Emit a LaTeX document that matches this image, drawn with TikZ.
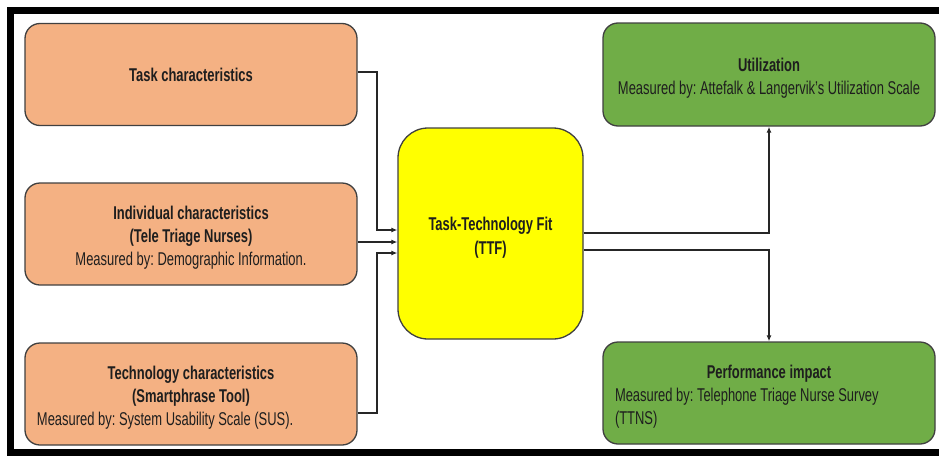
\documentclass[tikz,border=0pt]{standalone}
\usepackage{fontspec}
\setmainfont[FakeStretch=0.70]{Liberation Sans}
\frenchspacing
\usetikzlibrary{arrows.meta}
\definecolor{peach}{HTML}{F4B183}
\definecolor{leaf}{HTML}{70AD47}
\definecolor{ttfyellow}{HTML}{FFFF00}
\definecolor{edgegray}{HTML}{404040}
\definecolor{txt}{HTML}{1E1E1E}
\newcommand{\boxtext}[2][308pt]{\raisebox{-4pt}[\height][\depth]{\parbox{#1}{#2}}}
\tikzset{
  box/.style={draw=edgegray, line width=1.3pt, rounded corners=15pt,
    minimum height=102pt, minimum width=332pt, inner xsep=12pt, inner ysep=0pt,
    text=txt, font=\fontsize{18.5}{22.8}\selectfont\frenchspacing},
  orangebox/.style={box, fill=peach},
  greenbox/.style={box, fill=leaf},
  ttfbox/.style={draw=edgegray, line width=1.3pt, rounded corners=30pt, fill=ttfyellow,
    minimum width=185pt, minimum height=211pt, inner xsep=10pt,
    text=txt, font=\fontsize{18.5}{23.5}\selectfont\bfseries},
  conn/.style={draw=black!85, line width=1.6pt, -{Latex[length=6pt,width=5pt]}},
  frameline/.style={draw=black, line width=7pt}
}
\begin{document}
\begin{tikzpicture}[x=1pt,y=-1pt]
\useasboundingbox (0,0) rectangle (939,455);
\draw[frameline] (960,10.5) -- (10.5,10.5) -- (10.5,452.5) -- (960,452.5);

\node[orangebox] (task) at (191,74.5) {\parbox{308pt}{\centering\bfseries Task characteristics}};
\node[orangebox] (indiv) at (191,234) {\boxtext{\centering\bfseries Individual characteristics\\(Tele Triage Nurses)\\\mdseries Measured by: Demographic Information.}};
\node[orangebox] (tech) at (191,394) {\boxtext{{\centering\bfseries Technology characteristics\\(Smartphrase Tool)\par}Measured by: System Usability Scale (SUS).}};

\node[ttfbox] (ttf) at (490.5,233.5) {\boxtext[165pt]{\centering Task-Technology Fit\\(TTF)}};

\node[greenbox, minimum height=103pt] (util) at (769,74.5) {\boxtext{\centering\bfseries Utilization\\\mdseries\makebox[0pt]{Measured by: Attefalk \& Langervik’s Utilization Scale}}};
\node[greenbox] (perf) at (769,393) {\boxtext{{\centering\bfseries Performance impact\par}Measured by: Telephone Triage Nurse Survey\\(TTNS)}};

\coordinate (bus) at (377,0);
\draw[conn] (task.east |- 0,72) -| (bus |- 0,150) |- (ttf.west |- 0,230);
\draw[conn] (indiv.east |- 0,242) -- (ttf.west |- 0,242);
\draw[conn] (tech.east |- 0,413) -| (bus |- 0,300) |- (ttf.west |- 0,253);

\draw[conn] (ttf.east |- 0,233) -| (util.south);
\draw[conn] (ttf.east |- 0,250) -| (perf.north);
\end{tikzpicture}
\end{document}
